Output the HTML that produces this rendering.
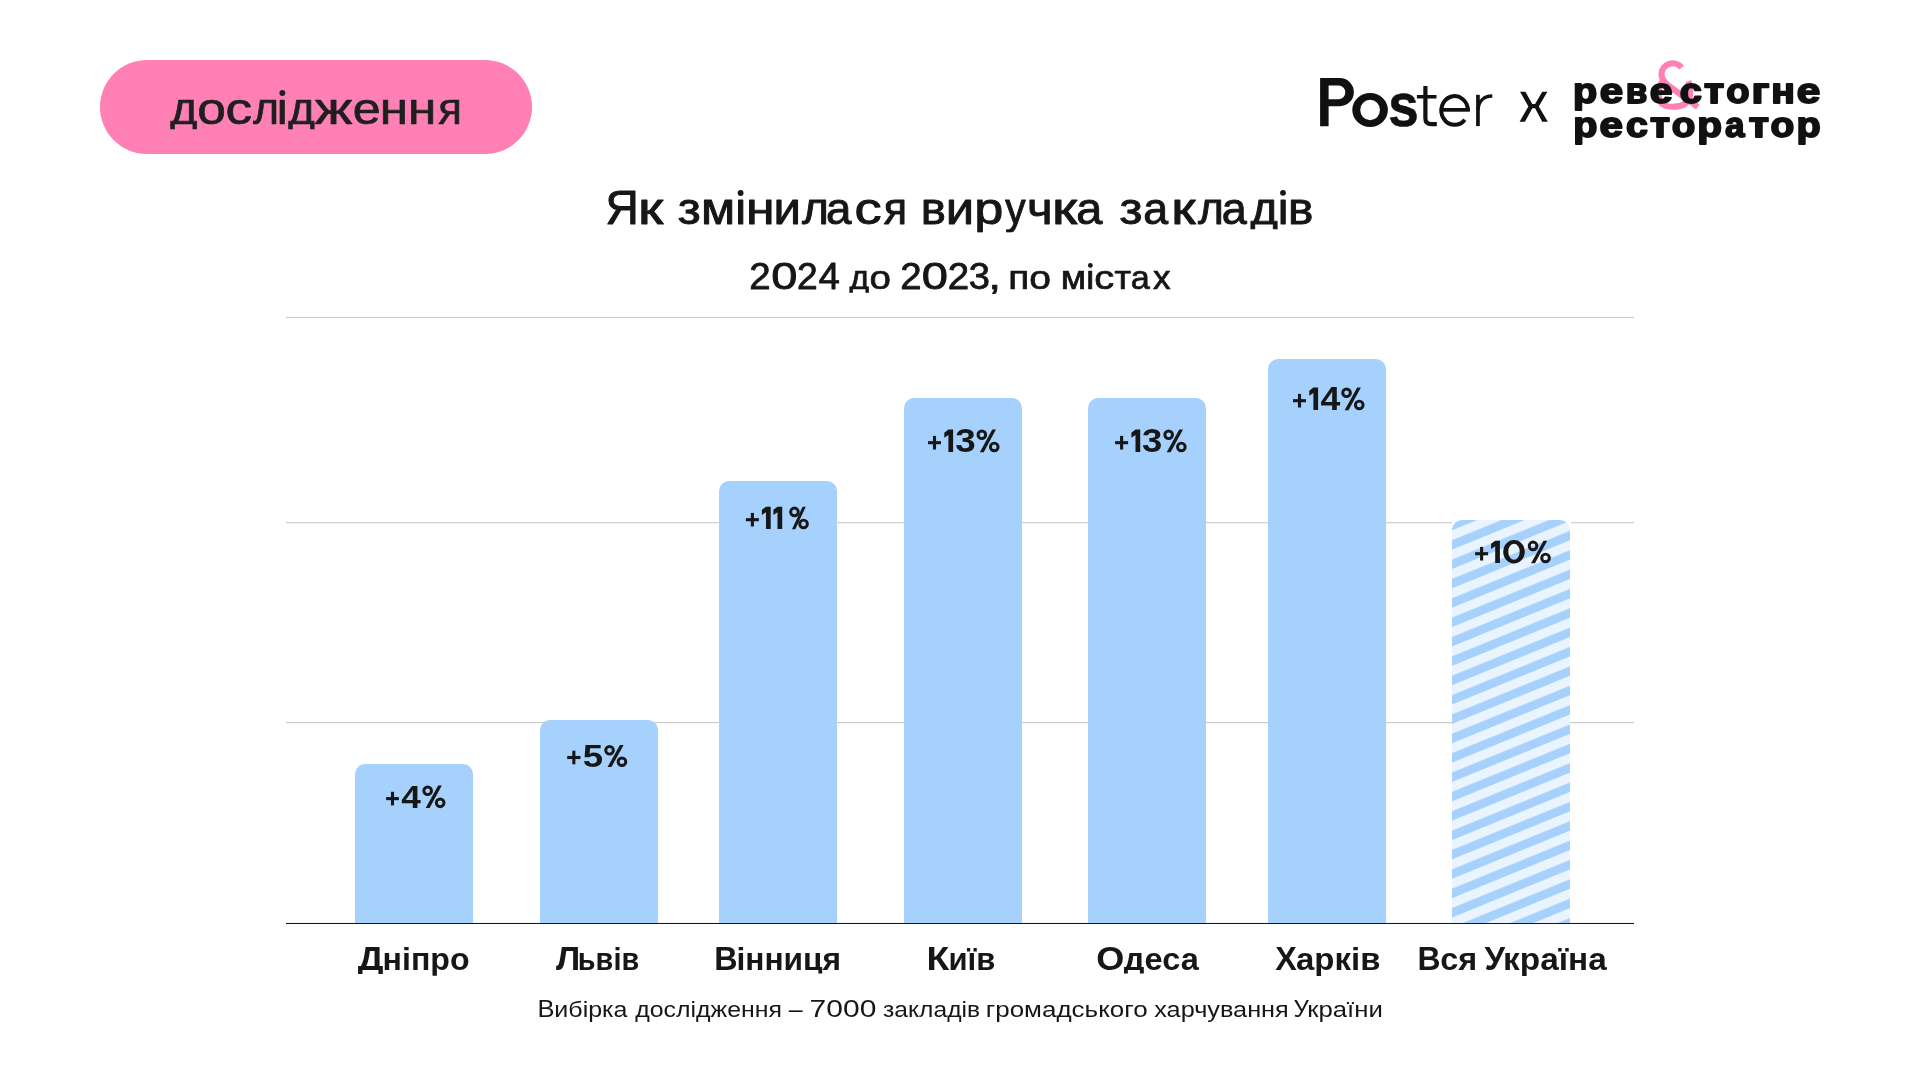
<!DOCTYPE html><html><head><meta charset="utf-8"><style>
html,body{margin:0;padding:0;background:#fff;}
body{width:1920px;height:1080px;position:relative;overflow:hidden;font-family:"Liberation Sans",sans-serif;}

.hl{position:absolute;left:286px;width:1348px;height:1px;background:#d0d0d0;}
.bar{position:absolute;background:#a6d1fc;border-radius:10px 10px 0 0;}
</style></head><body>
<div style="position:absolute;left:100px;top:60px;width:432px;height:94px;border-radius:47px;background:#ff80b5;"></div>
<div class="hl" style="top:316px;background:#f8f8f8"></div>
<div class="hl" style="top:317px;background:#cacaca"></div>
<div class="hl" style="top:523px;background:#f1f1f1"></div>
<div class="hl" style="top:522px;background:#d2d2d2"></div>
<div class="hl" style="top:723px;background:#f6f6f6"></div>
<div class="hl" style="top:722px;background:#cacaca"></div>
<div class="hl" style="top:922px;background:#f6f6f6"></div>
<div class="hl" style="top:922px;background:#f6f6f6"></div>
<div class="bar" style="left:355px;top:764px;width:118px;height:159px"></div>
<div class="bar" style="left:540px;top:720px;width:118px;height:203px"></div>
<div class="bar" style="left:719px;top:481px;width:118px;height:442px"></div>
<div class="bar" style="left:904px;top:398px;width:118px;height:525px"></div>
<div class="bar" style="left:1088px;top:398px;width:118px;height:525px"></div>
<div class="bar" style="left:1268px;top:359px;width:118px;height:564px"></div>
<svg style="position:absolute;left:0;top:0" width="1920" height="1080" viewBox="0 0 1920 1080">
<defs><pattern id="st" patternUnits="userSpaceOnUse" width="2000" height="19.36" patternTransform="skewY(-22.2)">
<rect x="0" y="0" width="2000" height="19.36" fill="#eaf4ff"/>
<rect x="0" y="9.92" width="2000" height="9.4" fill="#a6d1fc"/></pattern>
<clipPath id="bc"><path d="M1452 923 L1452 530 A10 10 0 0 1 1462 520 L1560 520 A10 10 0 0 1 1570 530 L1570 923 Z"/></clipPath></defs>
<rect x="1452" y="521" width="119" height="3" fill="#fff"/>
<rect x="1452" y="520" width="118" height="403" fill="url(#st)" clip-path="url(#bc)"/>
</svg>
<div style="position:absolute;left:286px;top:923px;width:1348px;height:1px;background:#151515"></div>
<svg style="position:absolute;left:0;top:0" width="1920" height="1080"><polygon points="1520.05,91.81 1525.37,91.81 1532.31,104.07 1535.09,104.07 1542.27,91.81 1547.36,91.81 1538.80,106.39 1547.82,121.67 1542.27,121.67 1535.09,108.24 1532.31,108.24 1524.91,121.67 1519.58,121.67 1528.38,106.39" fill="#111111"/><g transform="translate(1650,55) scale(0.055556)" fill="none" stroke="#ff80b5" stroke-width="110">
<path d="M569.9 226.5 A203 195 0 0 0 207 345 C207 432 252 482 318 540 L860 935"/>
<path d="M222 480 C136 580 130 800 220 880 C310 950 520 950 630 880 C735 810 750 640 690 470"/>
</g><g fill="#111111">
<path fill-rule="evenodd" d="M1320.1 78.1 H1339.8 A14.05 14.05 0 0 1 1339.8 106.2 H1328.6 V126.2 H1320.1 Z M1328.6 85.6 H1338.5 A6.8 6.8 0 0 1 1338.5 99.2 H1328.6 Z"/>
<path fill-rule="evenodd" d="M1352.3 110 A17.8 17 0 1 0 1387.9 110 A17.8 17 0 1 0 1352.3 110 Z M1360.25 110 A9.85 10.15 0 1 0 1379.95 110 A9.85 10.15 0 1 0 1360.25 110 Z"/>
<rect x="1416.9" y="95" width="19.6" height="3.5"/>
<rect x="1441" y="108" width="28.9" height="3.7"/>
<rect x="1476.1" y="94.8" width="3.7" height="31.3"/>
</g>
<g fill="none" stroke="#111111">
<path stroke-width="4.2" d="M1425.4 86 V118.5 Q1425.4 124.2 1431.5 124.2 H1436.8"/>
<path stroke-width="4.0" d="M1467.9 110.45 A13.3 14.35 0 1 0 1464.8 119.7"/>
<path stroke-width="3.5" d="M1478 110 C1478.5 101 1484 96.1 1492.3 96.1"/>
</g></svg>
<svg style="position:absolute;left:0;top:0" width="1920" height="1080"><rect fill="#171717" x="386.10" y="797.05" width="12.80" height="3.1"/><rect fill="#171717" x="390.95" y="791.80" width="3.1" height="13.6"/><circle cx="427.65" cy="790.80" r="3.83" fill="none" stroke="#171717" stroke-width="2.95"/><circle cx="440.15" cy="802.85" r="3.83" fill="none" stroke="#171717" stroke-width="2.95"/><polygon fill="#171717" points="425.69,808.10 429.57,808.10 441.82,785.60 438.13,785.60"/><rect fill="#171717" x="567.20" y="755.95" width="13.30" height="3.1"/><rect fill="#171717" x="572.30" y="750.70" width="3.1" height="13.6"/><circle cx="609.55" cy="750.30" r="3.83" fill="none" stroke="#171717" stroke-width="2.95"/><circle cx="621.95" cy="761.75" r="3.83" fill="none" stroke="#171717" stroke-width="2.95"/><polygon fill="#171717" points="607.57,767.00 611.44,767.00 623.63,745.10 619.96,745.10"/><rect fill="#171717" x="745.90" y="518.15" width="13.00" height="3.1"/><rect fill="#171717" x="750.85" y="512.90" width="3.1" height="13.6"/><polygon fill="#171717" points="766.00,506.70 770.70,506.70 770.70,528.90 766.00,528.90 766.00,512.20 761.90,514.90 761.90,509.80"/><polygon fill="#171717" points="777.50,506.70 782.20,506.70 782.20,528.90 777.50,528.90 777.50,512.20 773.40,514.90 773.40,509.80"/><circle cx="794.45" cy="511.90" r="3.83" fill="none" stroke="#171717" stroke-width="2.95"/><circle cx="803.55" cy="523.95" r="3.83" fill="none" stroke="#171717" stroke-width="2.95"/><polygon fill="#171717" points="791.99,529.20 795.30,529.20 805.76,506.70 802.61,506.70"/><rect fill="#171717" x="928.00" y="441.15" width="13.00" height="3.1"/><rect fill="#171717" x="932.95" y="435.90" width="3.1" height="13.6"/><polygon fill="#171717" points="948.40,429.60 953.10,429.60 953.10,451.90 948.40,451.90 948.40,435.10 944.30,437.80 944.30,432.70"/><circle cx="981.85" cy="434.80" r="3.83" fill="none" stroke="#171717" stroke-width="2.95"/><circle cx="994.25" cy="446.95" r="3.83" fill="none" stroke="#171717" stroke-width="2.95"/><polygon fill="#171717" points="979.87,452.20 983.74,452.20 995.93,429.60 992.26,429.60"/><rect fill="#171717" x="1115.10" y="441.15" width="13.00" height="3.1"/><rect fill="#171717" x="1120.05" y="435.90" width="3.1" height="13.6"/><polygon fill="#171717" points="1135.50,429.60 1140.20,429.60 1140.20,451.90 1135.50,451.90 1135.50,435.10 1131.40,437.80 1131.40,432.70"/><circle cx="1168.65" cy="434.80" r="3.83" fill="none" stroke="#171717" stroke-width="2.95"/><circle cx="1181.35" cy="446.95" r="3.83" fill="none" stroke="#171717" stroke-width="2.95"/><polygon fill="#171717" points="1166.71,452.20 1170.63,452.20 1182.98,429.60 1179.27,429.60"/><rect fill="#171717" x="1293.00" y="399.15" width="13.00" height="3.1"/><rect fill="#171717" x="1297.95" y="393.90" width="3.1" height="13.6"/><polygon fill="#171717" points="1313.40,387.60 1318.10,387.60 1318.10,409.90 1313.40,409.90 1313.40,393.10 1309.30,395.80 1309.30,390.70"/><circle cx="1346.55" cy="392.80" r="3.83" fill="none" stroke="#171717" stroke-width="2.95"/><circle cx="1359.25" cy="404.95" r="3.83" fill="none" stroke="#171717" stroke-width="2.95"/><polygon fill="#171717" points="1344.61,410.20 1348.53,410.20 1360.88,387.60 1357.17,387.60"/><rect fill="#171717" x="1475.10" y="552.15" width="13.00" height="3.1"/><rect fill="#171717" x="1480.05" y="546.90" width="3.1" height="13.6"/><polygon fill="#171717" points="1495.20,540.70 1499.90,540.70 1499.90,562.90 1495.20,562.90 1495.20,546.20 1491.10,548.90 1491.10,543.80"/><path fill="#171717" fill-rule="evenodd" d="M1503.20 551.80 A10.80 11.70 0 1 0 1524.80 551.80 A10.80 11.70 0 1 0 1503.20 551.80 Z M1508.30 551.80 A5.70 8.00 0 1 0 1519.70 551.80 A5.70 8.00 0 1 0 1508.30 551.80 Z"/><circle cx="1533.05" cy="545.90" r="3.83" fill="none" stroke="#171717" stroke-width="2.95"/><circle cx="1545.55" cy="557.95" r="3.83" fill="none" stroke="#171717" stroke-width="2.95"/><polygon fill="#171717" points="1531.09,563.20 1534.97,563.20 1547.22,540.70 1543.53,540.70"/><circle cx="282.35" cy="93.0" r="2.95" fill="#1f1f1f"/><circle cx="740.6" cy="193.0" r="2.9" fill="#161616"/><circle cx="1283.0" cy="192.8" r="2.9" fill="#161616"/><circle cx="1090.35" cy="265.4" r="2.4" fill="#161616"/></svg>
<svg style="position:absolute;left:0;top:0;will-change:transform" width="1920" height="1080" font-family="Liberation Sans, sans-serif">
<clipPath id="cp_pill_0"><rect x="0" y="0.00" width="1920" height="129.30"/></clipPath><g clip-path="url(#cp_pill_0)"><text class="t" id="pill_0" transform="translate(170.33 124.01) scale(1.0367 1.0000)" font-size="44.95" font-weight="400" fill="#1f1f1f" stroke="#1f1f1f" stroke-width="0.7" stroke-linejoin="round">д</text></g>
<text class="t" id="pill_1" transform="translate(197.25 124.01) scale(1.1449 1.0000)" font-size="44.95" font-weight="400" fill="#1f1f1f" stroke="#1f1f1f" stroke-width="0.7" stroke-linejoin="round">о</text>
<text class="t" id="pill_2" transform="translate(225.51 124.01) scale(1.1850 1.0000)" font-size="44.95" font-weight="400" fill="#1f1f1f" stroke="#1f1f1f" stroke-width="0.7" stroke-linejoin="round">с</text>
<text class="t" id="pill_3" transform="translate(252.93 124.01) scale(0.9933 1.0000)" font-size="44.95" font-weight="400" fill="#1f1f1f" stroke="#1f1f1f" stroke-width="0.7" stroke-linejoin="round">л</text>
<clipPath id="cp_pill_4"><rect x="0" y="97.50" width="1920" height="982.50"/></clipPath><g clip-path="url(#cp_pill_4)"><text class="t" id="pill_4" transform="translate(276.79 124.01) scale(1.0965 1.0000)" font-size="44.95" font-weight="400" fill="#1f1f1f" stroke="#1f1f1f" stroke-width="0.7" stroke-linejoin="round">і</text></g>
<clipPath id="cp_pill_5"><rect x="0" y="0.00" width="1920" height="129.30"/></clipPath><g clip-path="url(#cp_pill_5)"><text class="t" id="pill_5" transform="translate(288.33 124.01) scale(1.0166 1.0000)" font-size="44.95" font-weight="400" fill="#1f1f1f" stroke="#1f1f1f" stroke-width="0.7" stroke-linejoin="round">д</text></g>
<text class="t" id="pill_6" transform="translate(314.85 124.01) scale(1.2498 1.0000)" font-size="44.95" font-weight="400" fill="#1f1f1f" stroke="#1f1f1f" stroke-width="0.7" stroke-linejoin="round">ж</text>
<text class="t" id="pill_7" transform="translate(352.73 124.01) scale(1.1157 1.0000)" font-size="44.95" font-weight="400" fill="#1f1f1f" stroke="#1f1f1f" stroke-width="0.7" stroke-linejoin="round">е</text>
<text class="t" id="pill_8" transform="translate(379.77 124.01) scale(1.1414 1.0000)" font-size="44.95" font-weight="400" fill="#1f1f1f" stroke="#1f1f1f" stroke-width="0.7" stroke-linejoin="round">н</text>
<text class="t" id="pill_9" transform="translate(407.92 124.01) scale(1.1419 1.0000)" font-size="44.95" font-weight="400" fill="#1f1f1f" stroke="#1f1f1f" stroke-width="0.7" stroke-linejoin="round">н</text>
<text class="t" id="pill_10" transform="translate(438.14 124.01) scale(0.9717 1.0000)" font-size="44.95" font-weight="400" fill="#1f1f1f" stroke="#1f1f1f" stroke-width="0.7" stroke-linejoin="round">я</text>
<text class="t" id="title_0" transform="translate(605.49 224.01) scale(0.9664 1.0000)" font-size="47.68" font-weight="400" fill="#161616" stroke="#161616" stroke-width="1.0" stroke-linejoin="round">Я</text>
<text class="t" id="title_1" transform="translate(637.97 224.01) scale(1.2072 0.9410)" font-size="47.68" font-weight="400" fill="#161616" stroke="#161616" stroke-width="1.0" stroke-linejoin="round">к</text>
<text class="t" id="title_2" transform="translate(677.83 224.01) scale(1.0558 0.9410)" font-size="47.68" font-weight="400" fill="#161616" stroke="#161616" stroke-width="1.0" stroke-linejoin="round">з</text>
<text class="t" id="title_3" transform="translate(701.07 224.01) scale(1.0416 0.9410)" font-size="47.68" font-weight="400" fill="#161616" stroke="#161616" stroke-width="1.0" stroke-linejoin="round">м</text>
<clipPath id="cp_title_4"><rect x="0" y="197.00" width="1920" height="883.00"/></clipPath><g clip-path="url(#cp_title_4)"><text class="t" id="title_4" transform="translate(735.20 224.01) scale(1.0269 0.9410)" font-size="47.68" font-weight="400" fill="#161616" stroke="#161616" stroke-width="1.0" stroke-linejoin="round">і</text></g>
<text class="t" id="title_5" transform="translate(746.04 224.01) scale(1.0871 0.9410)" font-size="47.68" font-weight="400" fill="#161616" stroke="#161616" stroke-width="1.0" stroke-linejoin="round">н</text>
<text class="t" id="title_6" transform="translate(773.48 224.01) scale(1.0313 0.9410)" font-size="47.68" font-weight="400" fill="#161616" stroke="#161616" stroke-width="1.0" stroke-linejoin="round">и</text>
<text class="t" id="title_7" transform="translate(802.05 224.01) scale(0.9661 0.9410)" font-size="47.68" font-weight="400" fill="#161616" stroke="#161616" stroke-width="1.0" stroke-linejoin="round">л</text>
<text class="t" id="title_8" transform="translate(826.11 224.01) scale(0.9576 0.9410)" font-size="47.68" font-weight="400" fill="#161616" stroke="#161616" stroke-width="1.0" stroke-linejoin="round">а</text>
<text class="t" id="title_9" transform="translate(854.48 224.01) scale(1.1391 0.9410)" font-size="47.68" font-weight="400" fill="#161616" stroke="#161616" stroke-width="1.0" stroke-linejoin="round">с</text>
<text class="t" id="title_10" transform="translate(883.68 224.01) scale(0.9018 0.9410)" font-size="47.68" font-weight="400" fill="#161616" stroke="#161616" stroke-width="1.0" stroke-linejoin="round">я</text>
<text class="t" id="title_11" transform="translate(920.65 224.01) scale(0.9943 0.9410)" font-size="47.68" font-weight="400" fill="#161616" stroke="#161616" stroke-width="1.0" stroke-linejoin="round">в</text>
<text class="t" id="title_12" transform="translate(945.84 224.01) scale(1.0655 0.9410)" font-size="47.68" font-weight="400" fill="#161616" stroke="#161616" stroke-width="1.0" stroke-linejoin="round">и</text>
<clipPath id="cp_title_13"><rect x="0" y="0.00" width="1920" height="232.20"/></clipPath><g clip-path="url(#cp_title_13)"><text class="t" id="title_13" transform="translate(974.18 224.01) scale(1.0956 0.9410)" font-size="47.68" font-weight="400" fill="#161616" stroke="#161616" stroke-width="1.0" stroke-linejoin="round">р</text></g>
<clipPath id="cp_title_14"><rect x="0" y="0.00" width="1920" height="232.20"/></clipPath><g clip-path="url(#cp_title_14)"><text class="t" id="title_14" transform="translate(1005.26 224.01) scale(0.8543 0.9410)" font-size="47.68" font-weight="400" fill="#161616" stroke="#161616" stroke-width="1.0" stroke-linejoin="round">у</text></g>
<text class="t" id="title_15" transform="translate(1027.12 224.01) scale(1.0333 0.9410)" font-size="47.68" font-weight="400" fill="#161616" stroke="#161616" stroke-width="1.0" stroke-linejoin="round">ч</text>
<text class="t" id="title_16" transform="translate(1051.89 224.01) scale(1.2039 0.9410)" font-size="47.68" font-weight="400" fill="#161616" stroke="#161616" stroke-width="1.0" stroke-linejoin="round">к</text>
<text class="t" id="title_17" transform="translate(1076.37 224.01) scale(0.9822 0.9410)" font-size="47.68" font-weight="400" fill="#161616" stroke="#161616" stroke-width="1.0" stroke-linejoin="round">а</text>
<text class="t" id="title_18" transform="translate(1119.47 224.01) scale(1.0557 0.9410)" font-size="47.68" font-weight="400" fill="#161616" stroke="#161616" stroke-width="1.0" stroke-linejoin="round">з</text>
<text class="t" id="title_19" transform="translate(1143.15 224.01) scale(0.9388 0.9410)" font-size="47.68" font-weight="400" fill="#161616" stroke="#161616" stroke-width="1.0" stroke-linejoin="round">а</text>
<text class="t" id="title_20" transform="translate(1171.36 224.01) scale(1.1674 0.9410)" font-size="47.68" font-weight="400" fill="#161616" stroke="#161616" stroke-width="1.0" stroke-linejoin="round">к</text>
<text class="t" id="title_21" transform="translate(1198.12 224.01) scale(0.9285 0.9410)" font-size="47.68" font-weight="400" fill="#161616" stroke="#161616" stroke-width="1.0" stroke-linejoin="round">л</text>
<text class="t" id="title_22" transform="translate(1221.78 224.01) scale(0.9442 0.9410)" font-size="47.68" font-weight="400" fill="#161616" stroke="#161616" stroke-width="1.0" stroke-linejoin="round">а</text>
<clipPath id="cp_title_23"><rect x="0" y="0.00" width="1920" height="229.20"/></clipPath><g clip-path="url(#cp_title_23)"><text class="t" id="title_23" transform="translate(1250.49 224.01) scale(0.9838 0.9410)" font-size="47.68" font-weight="400" fill="#161616" stroke="#161616" stroke-width="1.0" stroke-linejoin="round">д</text></g>
<clipPath id="cp_title_24"><rect x="0" y="197.00" width="1920" height="883.00"/></clipPath><g clip-path="url(#cp_title_24)"><text class="t" id="title_24" transform="translate(1277.77 224.01) scale(1.0196 0.9410)" font-size="47.68" font-weight="400" fill="#161616" stroke="#161616" stroke-width="1.0" stroke-linejoin="round">і</text></g>
<text class="t" id="title_25" transform="translate(1288.07 224.01) scale(1.0023 0.9410)" font-size="47.68" font-weight="400" fill="#161616" stroke="#161616" stroke-width="1.0" stroke-linejoin="round">в</text>
<text class="t" id="sub_0" transform="translate(749.33 289.01) scale(1.0592 1.0000)" font-size="36.34" font-weight="400" fill="#161616" stroke="#161616" stroke-width="0.8" stroke-linejoin="round">2</text>
<text class="t" id="sub_1" transform="translate(771.27 289.01) scale(1.2917 1.0000)" font-size="36.34" font-weight="400" fill="#161616" stroke="#161616" stroke-width="0.8" stroke-linejoin="round">0</text>
<text class="t" id="sub_2" transform="translate(797.06 289.01) scale(1.0238 1.0000)" font-size="36.34" font-weight="400" fill="#161616" stroke="#161616" stroke-width="0.8" stroke-linejoin="round">2</text>
<text class="t" id="sub_3" transform="translate(818.71 289.01) scale(1.0440 1.0000)" font-size="36.34" font-weight="400" fill="#161616" stroke="#161616" stroke-width="0.8" stroke-linejoin="round">4</text>
<clipPath id="cp_sub_4"><rect x="0" y="0.00" width="1920" height="292.80"/></clipPath><g clip-path="url(#cp_sub_4)"><text class="t" id="sub_4" transform="translate(849.42 289.01) scale(0.9261 0.9300)" font-size="36.34" font-weight="400" fill="#161616" stroke="#161616" stroke-width="0.8" stroke-linejoin="round">д</text></g>
<text class="t" id="sub_5" transform="translate(869.38 289.01) scale(1.0606 0.9300)" font-size="36.34" font-weight="400" fill="#161616" stroke="#161616" stroke-width="0.8" stroke-linejoin="round">о</text>
<text class="t" id="sub_6" transform="translate(900.26 289.01) scale(1.0572 1.0000)" font-size="36.34" font-weight="400" fill="#161616" stroke="#161616" stroke-width="0.8" stroke-linejoin="round">2</text>
<text class="t" id="sub_7" transform="translate(921.83 289.01) scale(1.2954 1.0000)" font-size="36.34" font-weight="400" fill="#161616" stroke="#161616" stroke-width="0.8" stroke-linejoin="round">0</text>
<text class="t" id="sub_8" transform="translate(947.76 289.01) scale(1.0594 1.0000)" font-size="36.34" font-weight="400" fill="#161616" stroke="#161616" stroke-width="0.8" stroke-linejoin="round">2</text>
<text class="t" id="sub_9" transform="translate(968.75 289.01) scale(1.0493 1.0000)" font-size="36.34" font-weight="400" fill="#161616" stroke="#161616" stroke-width="0.8" stroke-linejoin="round">3</text>
<text class="t" id="sub_10" transform="translate(988.40 289.01) scale(1.2225 1.0000)" font-size="36.34" font-weight="400" fill="#161616" stroke="#161616" stroke-width="0.8" stroke-linejoin="round">,</text>
<text class="t" id="sub_11" transform="translate(1008.36 289.01) scale(1.0682 0.9300)" font-size="36.34" font-weight="400" fill="#161616" stroke="#161616" stroke-width="0.8" stroke-linejoin="round">п</text>
<text class="t" id="sub_12" transform="translate(1029.15 289.01) scale(1.0755 0.9300)" font-size="36.34" font-weight="400" fill="#161616" stroke="#161616" stroke-width="0.8" stroke-linejoin="round">о</text>
<text class="t" id="sub_13" transform="translate(1060.86 289.01) scale(1.0161 0.9300)" font-size="36.34" font-weight="400" fill="#161616" stroke="#161616" stroke-width="0.8" stroke-linejoin="round">м</text>
<clipPath id="cp_sub_14"><rect x="0" y="268.50" width="1920" height="811.50"/></clipPath><g clip-path="url(#cp_sub_14)"><text class="t" id="sub_14" transform="translate(1086.22 289.01) scale(0.9886 0.9300)" font-size="36.34" font-weight="400" fill="#161616" stroke="#161616" stroke-width="0.8" stroke-linejoin="round">і</text></g>
<text class="t" id="sub_15" transform="translate(1094.21 289.01) scale(1.0992 0.9300)" font-size="36.34" font-weight="400" fill="#161616" stroke="#161616" stroke-width="0.8" stroke-linejoin="round">с</text>
<text class="t" id="sub_16" transform="translate(1114.51 289.01) scale(0.9938 0.9300)" font-size="36.34" font-weight="400" fill="#161616" stroke="#161616" stroke-width="0.8" stroke-linejoin="round">т</text>
<text class="t" id="sub_17" transform="translate(1130.78 289.01) scale(0.9424 0.9300)" font-size="36.34" font-weight="400" fill="#161616" stroke="#161616" stroke-width="0.8" stroke-linejoin="round">а</text>
<text class="t" id="sub_18" transform="translate(1152.91 289.01) scale(0.9686 0.9300)" font-size="36.34" font-weight="400" fill="#161616" stroke="#161616" stroke-width="0.8" stroke-linejoin="round">х</text>
<text class="t" id="v0_1" transform="translate(401.33 808.01) scale(1.0918 1.0000)" font-size="32.27" font-weight="700" fill="#171717">4</text>
<text class="t" id="v1_1" transform="translate(582.74 767.01) scale(1.1689 1.0000)" font-size="31.40" font-weight="700" fill="#171717">5</text>
<text class="t" id="v3_2" transform="translate(955.17 452.01) scale(1.1369 1.0000)" font-size="32.41" font-weight="700" fill="#171717">3</text>
<text class="t" id="v4_2" transform="translate(1141.92 452.01) scale(1.1264 1.0000)" font-size="32.41" font-weight="700" fill="#171717">3</text>
<text class="t" id="v5_2" transform="translate(1320.47 410.01) scale(1.0976 1.0000)" font-size="32.41" font-weight="700" fill="#171717">4</text>
<clipPath id="cp_c0_0"><rect x="0" y="0.00" width="1920" height="973.90"/></clipPath><g clip-path="url(#cp_c0_0)"><text class="t" id="c0_0" transform="translate(357.86 970.01) scale(1.1098 1.0000)" font-size="32.56" font-weight="700" fill="#171717">Д</text></g>
<clipPath id="cp_c0_1"><rect x="0" y="0.00" width="1920" height="975.70"/></clipPath><g clip-path="url(#cp_c0_1)"><text class="t" id="c0_1" transform="translate(382.55 970.01) scale(0.9868 0.9600)" font-size="32.56" font-weight="700" fill="#171717">ніпро</text></g>
<text class="t" id="c1_0" transform="translate(556.04 970.01) scale(1.0610 1.0000)" font-size="32.56" font-weight="700" fill="#171717">Л</text>
<text class="t" id="c1_1" transform="translate(577.85 970.01) scale(0.8878 0.9600)" font-size="32.56" font-weight="700" fill="#171717">ьвів</text>
<text class="t" id="c2_0" transform="translate(714.15 970.01) scale(0.9941 1.0000)" font-size="32.56" font-weight="700" fill="#171717">В</text>
<clipPath id="cp_c2_1"><rect x="0" y="0.00" width="1920" height="973.40"/></clipPath><g clip-path="url(#cp_c2_1)"><text class="t" id="c2_1" transform="translate(736.45 970.01) scale(0.9747 0.9600)" font-size="32.56" font-weight="700" fill="#171717">інниця</text></g>
<text class="t" id="c3_0" transform="translate(926.57 970.01) scale(1.1466 1.0000)" font-size="32.56" font-weight="700" fill="#171717">К</text>
<text class="t" id="c3_1" transform="translate(948.42 970.01) scale(0.9537 0.9600)" font-size="32.56" font-weight="700" fill="#171717">иїв</text>
<text class="t" id="c4_0" transform="translate(1096.29 970.01) scale(1.1085 1.0000)" font-size="32.56" font-weight="700" fill="#171717">О</text>
<clipPath id="cp_c4_1"><rect x="0" y="0.00" width="1920" height="973.50"/></clipPath><g clip-path="url(#cp_c4_1)"><text class="t" id="c4_1" transform="translate(1123.85 970.01) scale(1.0015 0.9600)" font-size="32.56" font-weight="700" fill="#171717">деса</text></g>
<text class="t" id="c5_0" transform="translate(1275.33 970.01) scale(0.9922 1.0000)" font-size="32.56" font-weight="700" fill="#171717">Х</text>
<clipPath id="cp_c5_1"><rect x="0" y="0.00" width="1920" height="976.00"/></clipPath><g clip-path="url(#cp_c5_1)"><text class="t" id="c5_1" transform="translate(1296.01 970.01) scale(1.0130 0.9600)" font-size="32.56" font-weight="700" fill="#171717">арків</text></g>
<text class="t" id="c6_0" transform="translate(1417.48 970.01) scale(0.9803 1.0000)" font-size="32.56" font-weight="700" fill="#171717">В</text>
<text class="t" id="c6_1" transform="translate(1440.32 970.01) scale(0.9961 0.9600)" font-size="32.56" font-weight="700" fill="#171717">ся</text>
<text class="t" id="c6_2" transform="translate(1484.61 970.01) scale(1.0157 1.0000)" font-size="32.56" font-weight="700" fill="#171717">У</text>
<clipPath id="cp_c6_3"><rect x="0" y="0.00" width="1920" height="976.00"/></clipPath><g clip-path="url(#cp_c6_3)"><text class="t" id="c6_3" transform="translate(1503.08 970.01) scale(1.0253 0.9600)" font-size="32.56" font-weight="700" fill="#171717">країна</text></g>
<text class="t" id="foot_0" transform="translate(537.48 1017.01) scale(1.0591 1.0000)" font-size="24.13" font-weight="400" fill="#161616">В</text>
<text class="t" id="foot_1" transform="translate(554.37 1017.01) scale(1.0367 0.9340)" font-size="24.13" font-weight="400" fill="#161616">ибірка</text>
<text class="t" id="foot_2" transform="translate(635.24 1017.01) scale(1.0305 0.9340)" font-size="24.13" font-weight="400" fill="#161616">дослідження</text>
<text class="t" id="foot_3" transform="translate(788.67 1017.01) scale(1.0339 1.0000)" font-size="24.13" font-weight="400" fill="#161616">–</text>
<text class="t" id="foot_4" transform="translate(809.61 1017.01) scale(1.2443 1.0000)" font-size="24.13" font-weight="400" fill="#161616">7000</text>
<text class="t" id="foot_5" transform="translate(883.08 1017.01) scale(1.0207 0.9340)" font-size="24.13" font-weight="400" fill="#161616">закладів</text>
<text class="t" id="foot_6" transform="translate(985.71 1017.01) scale(1.0778 0.9340)" font-size="24.13" font-weight="400" fill="#161616">громадського</text>
<text class="t" id="foot_7" transform="translate(1154.24 1017.01) scale(1.0483 0.9340)" font-size="24.13" font-weight="400" fill="#161616">харчування</text>
<text class="t" id="foot_8" transform="translate(1293.62 1017.01) scale(1.0018 1.0000)" font-size="24.13" font-weight="400" fill="#161616">У</text>
<text class="t" id="foot_9" transform="translate(1307.22 1017.01) scale(1.0671 0.9340)" font-size="24.13" font-weight="400" fill="#161616">країни</text>
<text class="t" id="s" transform="translate(1388.36 126.01) scale(0.9080 1.0000)" font-size="60.38" font-weight="700" fill="#111111" stroke="#111111" stroke-width="0.6" stroke-linejoin="round">s</text>
<text class="t" id="rev_0" transform="translate(1573.05 103.01) scale(1.1322 1.0000)" font-size="35.02" font-weight="700" fill="#111111" stroke="#111111" stroke-width="1.8" stroke-linejoin="round">р</text>
<text class="t" id="rev_1" transform="translate(1599.70 103.01) scale(1.2017 1.0000)" font-size="35.02" font-weight="700" fill="#111111" stroke="#111111" stroke-width="1.8" stroke-linejoin="round">е</text>
<text class="t" id="rev_2" transform="translate(1625.80 103.01) scale(1.0045 1.0000)" font-size="35.02" font-weight="700" fill="#111111" stroke="#111111" stroke-width="1.8" stroke-linejoin="round">в</text>
<text class="t" id="rev_3" transform="translate(1649.63 103.01) scale(1.1701 1.0000)" font-size="35.02" font-weight="700" fill="#111111" stroke="#111111" stroke-width="1.8" stroke-linejoin="round">е</text>
<text class="t" id="rev_4" transform="translate(1679.71 103.01) scale(1.1370 1.0000)" font-size="35.02" font-weight="700" fill="#111111" stroke="#111111" stroke-width="1.8" stroke-linejoin="round">с</text>
<text class="t" id="rev_5" transform="translate(1704.08 103.01) scale(1.1778 1.0000)" font-size="35.02" font-weight="700" fill="#111111" stroke="#111111" stroke-width="1.8" stroke-linejoin="round">т</text>
<text class="t" id="rev_6" transform="translate(1726.14 103.01) scale(1.0892 1.0000)" font-size="35.02" font-weight="700" fill="#111111" stroke="#111111" stroke-width="1.8" stroke-linejoin="round">о</text>
<text class="t" id="rev_7" transform="translate(1751.51 103.01) scale(1.2310 1.0000)" font-size="35.02" font-weight="700" fill="#111111" stroke="#111111" stroke-width="1.8" stroke-linejoin="round">г</text>
<text class="t" id="rev_8" transform="translate(1771.32 103.01) scale(1.1196 1.0000)" font-size="35.02" font-weight="700" fill="#111111" stroke="#111111" stroke-width="1.8" stroke-linejoin="round">н</text>
<text class="t" id="rev_9" transform="translate(1796.76 103.01) scale(1.2081 1.0000)" font-size="35.02" font-weight="700" fill="#111111" stroke="#111111" stroke-width="1.8" stroke-linejoin="round">е</text>
<text class="t" id="res_0" transform="translate(1573.29 137.01) scale(1.1256 1.0000)" font-size="35.21" font-weight="700" fill="#111111" stroke="#111111" stroke-width="1.8" stroke-linejoin="round">р</text>
<text class="t" id="res_1" transform="translate(1599.48 137.01) scale(1.1966 1.0000)" font-size="35.21" font-weight="700" fill="#111111" stroke="#111111" stroke-width="1.8" stroke-linejoin="round">е</text>
<text class="t" id="res_2" transform="translate(1625.99 137.01) scale(1.1197 1.0000)" font-size="35.21" font-weight="700" fill="#111111" stroke="#111111" stroke-width="1.8" stroke-linejoin="round">с</text>
<text class="t" id="res_3" transform="translate(1650.09 137.01) scale(1.1607 1.0000)" font-size="35.21" font-weight="700" fill="#111111" stroke="#111111" stroke-width="1.8" stroke-linejoin="round">т</text>
<text class="t" id="res_4" transform="translate(1671.77 137.01) scale(1.0934 1.0000)" font-size="35.21" font-weight="700" fill="#111111" stroke="#111111" stroke-width="1.8" stroke-linejoin="round">о</text>
<text class="t" id="res_5" transform="translate(1697.37 137.01) scale(1.1521 1.0000)" font-size="35.21" font-weight="700" fill="#111111" stroke="#111111" stroke-width="1.8" stroke-linejoin="round">р</text>
<text class="t" id="res_6" transform="translate(1724.94 137.01) scale(0.9975 1.0000)" font-size="35.21" font-weight="700" fill="#111111" stroke="#111111" stroke-width="1.8" stroke-linejoin="round">а</text>
<text class="t" id="res_7" transform="translate(1748.72 137.01) scale(1.1737 1.0000)" font-size="35.21" font-weight="700" fill="#111111" stroke="#111111" stroke-width="1.8" stroke-linejoin="round">т</text>
<text class="t" id="res_8" transform="translate(1770.46 137.01) scale(1.1034 1.0000)" font-size="35.21" font-weight="700" fill="#111111" stroke="#111111" stroke-width="1.8" stroke-linejoin="round">о</text>
<text class="t" id="res_9" transform="translate(1796.46 137.01) scale(1.1264 1.0000)" font-size="35.21" font-weight="700" fill="#111111" stroke="#111111" stroke-width="1.8" stroke-linejoin="round">р</text>
</svg>
</body></html>
